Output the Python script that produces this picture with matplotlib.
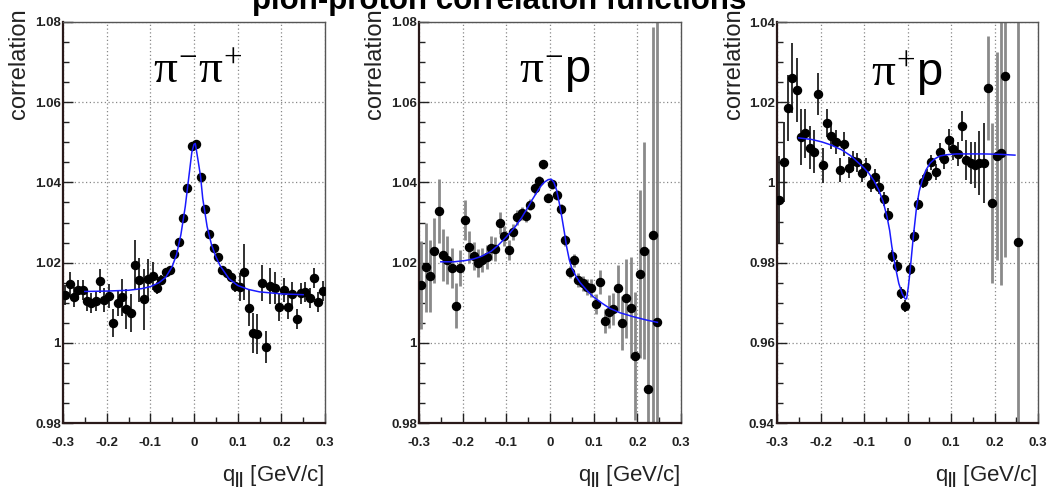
import matplotlib
matplotlib.use("Agg")
import matplotlib.pyplot as plt
from matplotlib.ticker import MultipleLocator, FixedLocator, FixedFormatter

plt.rcParams['font.family'] = ['Liberation Sans', 'DejaVu Sans']
plt.rcParams['axes.unicode_minus'] = False
plt.rcParams['mathtext.fontset'] = 'custom'
plt.rcParams['mathtext.rm'] = 'Liberation Serif'
plt.rcParams['mathtext.it'] = 'Liberation Serif'
plt.rcParams['mathtext.sf'] = 'Liberation Sans'
plt.rcParams['mathtext.bf'] = 'Liberation Sans:bold'

# ---------------- data ----------------
q_left = [-0.295, -0.285, -0.275, -0.265, -0.255, -0.245, -0.235, -0.225, -0.215, -0.205,
          -0.195, -0.185, -0.175, -0.165, -0.155, -0.145, -0.135, -0.125, -0.115, -0.105,
          -0.095, -0.085, -0.075, -0.065, -0.055, -0.045, -0.035, -0.025, -0.015, -0.005]
q_right = [0.005, 0.015, 0.025, 0.035, 0.045, 0.055, 0.065, 0.075, 0.085, 0.095,
           0.105, 0.115, 0.125, 0.135, 0.145, 0.155, 0.165, 0.175, 0.185, 0.195,
           0.205, 0.215, 0.225, 0.235, 0.245, 0.255, 0.265, 0.275, 0.285, 0.295]

# pi- pi+
pipi_q = q_left + q_right
pipi_c = [1.0119, 1.0147, 1.0115, 1.0132, 1.0131, 1.0105, 1.0100, 1.0105, 1.0155, 1.0106,
          1.0117, 1.0049, 1.0099, 1.0113, 1.0084, 1.0074, 1.0194, 1.0157, 1.0108, 1.0160,
          1.0167, 1.0136, 1.0157, 1.0177, 1.0182, 1.0221, 1.0251, 1.0310, 1.0385, 1.0490,
          1.0496, 1.0413, 1.0334, 1.0271, 1.0236, 1.0215, 1.0182, 1.0173, 1.0165, 1.0142,
          1.0140, 1.0177, 1.0086, 1.0024, 1.0021, 1.0148, 0.9990, 1.0142, 1.0136, 1.0089,
          1.0132, 1.0090, 1.0122, 1.0059, 1.0123, 1.0127, 1.0112, 1.0161, 1.0102, 1.0130]
pipi_err = [0.0025, 0.0030, 0.0025, 0.0025, 0.0025, 0.0025, 0.0025, 0.0025, 0.0030, 0.0030,
            0.0030, 0.0035, 0.0033, 0.0045, 0.0050, 0.0048, 0.0063, 0.0055, 0.0075, 0.0050,
            0.0035, 0.0015, 0.0012, 0.0010, 0.0010, 0.0009, 0.0008, 0.0008, 0.0007, 0.0007,
            0.0007, 0.0007, 0.0008, 0.0008, 0.0009, 0.0010, 0.0010, 0.0010, 0.0012, 0.0015,
            0.0035, 0.0070, 0.0045, 0.0050, 0.0050, 0.0045, 0.0040, 0.0045, 0.0040, 0.0035,
            0.0030, 0.0030, 0.0030, 0.0025, 0.0025, 0.0025, 0.0025, 0.0025, 0.0025, 0.0025]
pipi_fit_q = [-0.25, -0.20, -0.15, -0.12, -0.10, -0.08, -0.065, -0.05, -0.04, -0.03, -0.02,
              -0.01, -0.005, 0.0, 0.003, 0.01, 0.015, 0.02, 0.03, 0.04, 0.05, 0.06, 0.08,
              0.10, 0.125, 0.15, 0.20, 0.25]
pipi_fit_c = [1.0128, 1.0129, 1.0131, 1.0135, 1.0140, 1.0150, 1.0163, 1.0190, 1.0220, 1.0270,
              1.0340, 1.0430, 1.0475, 1.0495, 1.0497, 1.0450, 1.0415, 1.0360, 1.0290, 1.0245,
              1.0215, 1.0192, 1.0160, 1.0143, 1.0133, 1.0127, 1.0122, 1.0120]

# pi- p
pimp_q = q_left + q_right[:25]
pimp_c = [1.0144, 1.0188, 1.0167, 1.0230, 1.0329, 1.0219, 1.0206, 1.0186, 1.0093, 1.0186,
          1.0306, 1.0238, 1.0216, 1.0198, 1.0206, 1.0215, 1.0236, 1.0233, 1.0299, 1.0266,
          1.0231, 1.0277, 1.0313, 1.0323, 1.0316, 1.0344, 1.0385, 1.0403, 1.0445, 1.0362,
          1.0395, 1.0369, 1.0334, 1.0256, 1.0177, 1.0206, 1.0157, 1.0148, 1.0140, 1.0136,
          1.0096, 1.0151, 1.0055, 1.0078, 1.0085, 1.0137, 1.0050, 1.0111, 1.0088, 0.9967,
          1.0172, 1.0230, 0.9884, 1.0268, 1.0051]
pimp_err = [0.0110, 0.0110, 0.0090, 0.0080, 0.0080, 0.0065, 0.0060, 0.0050, 0.0055, 0.0045,
            0.0050, 0.0040, 0.0035, 0.0035, 0.0030, 0.0030, 0.0030, 0.0030, 0.0028, 0.0025,
            0.0025, 0.0020, 0.0018, 0.0016, 0.0015, 0.0014, 0.0013, 0.0012, 0.0012, 0.0012,
            0.0012, 0.0012, 0.0013, 0.0014, 0.0015, 0.0016, 0.0017, 0.0018, 0.0020, 0.0022,
            0.0025, 0.0030, 0.0030, 0.0040, 0.0040, 0.0058, 0.0067, 0.0098, 0.0125, 0.0160,
            0.0210, 0.0270, 0.0350, 0.0520, 0.0800]
pimp_fit_q = [-0.25, -0.22, -0.195, -0.175, -0.156, -0.135, -0.118, -0.10, -0.08, -0.065,
              -0.05, -0.04, -0.027, -0.018, -0.011, -0.004, 0.003, 0.009, 0.015, 0.021,
              0.027, 0.033, 0.038, 0.044, 0.050, 0.060, 0.069, 0.085, 0.099, 0.12, 0.137,
              0.16, 0.191, 0.22, 0.246]
pimp_fit_c = [1.0202, 1.0202, 1.0205, 1.0209, 1.0216, 1.0228, 1.0244, 1.0264, 1.0289, 1.0312,
              1.0339, 1.0358, 1.0381, 1.0395, 1.0402, 1.0407, 1.0408, 1.0400, 1.0381, 1.0350,
              1.0314, 1.0275, 1.0240, 1.0208, 1.0186, 1.0165, 1.0150, 1.0130, 1.0115, 1.0098,
              1.0086, 1.0075, 1.0065, 1.0057, 1.0051]

# pi+ p
pipp_q = q_left + q_right[:23] + [0.255]
pipp_c = [0.9956, 1.0050, 1.0186, 1.0260, 1.0230, 1.0114, 1.0122, 1.0087, 1.0077, 1.0220,
          1.0043, 1.0147, 1.0116, 1.0101, 1.0031, 1.0095, 1.0037, 1.0054, 1.0050, 1.0024,
          1.0039, 0.9995, 1.0014, 0.9989, 0.9958, 0.9919, 0.9816, 0.9792, 0.9725, 0.9692,
          0.9785, 0.9866, 0.9946, 1.0002, 1.0017, 1.0050, 1.0027, 1.0077, 1.0058, 1.0106,
          1.0083, 1.0071, 1.0141, 1.0056, 1.0049, 1.0043, 1.0048, 1.0048, 1.0236, 0.9948,
          1.0066, 1.0073, 1.0265, 0.9852]
pipp_err = [0.0110, 0.0100, 0.0083, 0.0087, 0.0079, 0.0070, 0.0060, 0.0054, 0.0054, 0.0052,
            0.0044, 0.0035, 0.0032, 0.0030, 0.0030, 0.0030, 0.0026, 0.0025, 0.0024, 0.0023,
            0.0022, 0.0020, 0.0020, 0.0018, 0.0017, 0.0016, 0.0015, 0.0015, 0.0015, 0.0015,
            0.0015, 0.0015, 0.0015, 0.0016, 0.0017, 0.0018, 0.0020, 0.0022, 0.0024, 0.0026,
            0.0028, 0.0030, 0.0038, 0.0050, 0.0052, 0.0058, 0.0079, 0.0100, 0.0130, 0.0200,
            0.0260, 0.0330, 0.0450, 0.0800]
pipp_fit_q = [-0.25, -0.22, -0.197, -0.175, -0.151, -0.13, -0.112, -0.10, -0.089, -0.077,
              -0.066, -0.056, -0.047, -0.041, -0.036, -0.028, -0.020, -0.012, -0.005, -0.002,
              0.002, 0.006, 0.0134, 0.021, 0.027, 0.033, 0.042, 0.052, 0.063, 0.075, 0.09,
              0.113, 0.15, 0.175, 0.213, 0.247]
pipp_fit_c = [1.0111, 1.0107, 1.0101, 1.0093, 1.0081, 1.0066, 1.0048, 1.0036, 1.0023, 1.0004,
              0.9981, 0.9952, 0.9914, 0.9880, 0.9840, 0.9790, 0.9748, 0.9722, 0.9709, 0.9710,
              0.9740, 0.9780, 0.9865, 0.9940, 0.9978, 1.0002, 1.0030, 1.0048, 1.0059, 1.0066,
              1.0069, 1.0071, 1.0071, 1.0071, 1.0070, 1.0068]

x_ticks = [-0.3, -0.2, -0.1, 0.0, 0.1, 0.2, 0.3]
x_tick_labels = ['-0.3', '-0.2', '-0.1', '0', '0.1', '0.2', '0.3']
y_ticks_a = [0.98, 1.00, 1.02, 1.04, 1.06, 1.08]
y_tick_labels_a = ['0.98', '1', '1.02', '1.04', '1.06', '1.08']
y_ticks_b = [0.94, 0.96, 0.98, 1.00, 1.02, 1.04]
y_tick_labels_b = ['0.94', '0.96', '0.98', '1', '1.02', '1.04']

panel_labels = [r'$\pi^{-}\pi^{+}$', r'$\pi^{-}\mathsf{p}$', r'$\pi^{+}\mathsf{p}$']

# ---------------- figure ----------------
W, H = 1048, 492
fig = plt.figure(figsize=(W / 100, H / 100), dpi=100)


def fx(px):
    return px / W


def fy(py):
    return 1 - py / H


axes_px = [(63, 325), (419, 681), (777, 1038)]
top_px, bot_px = 22, 423

panels = [
    (pipi_q, pipi_c, pipi_err, pipi_fit_q, pipi_fit_c, (0.98, 1.08), y_ticks_a, y_tick_labels_a),
    (pimp_q, pimp_c, pimp_err, pimp_fit_q, pimp_fit_c, (0.98, 1.08), y_ticks_a, y_tick_labels_a),
    (pipp_q, pipp_c, pipp_err, pipp_fit_q, pipp_fit_c, (0.94, 1.04), y_ticks_b, y_tick_labels_b),
]
label_pos = [(198, 71), (555, 73), (907, 75)]
ylabel_x = [19, 375, 734]

for i, (q, c, e, fq, fc, ylim, yt, ytl) in enumerate(panels):
    l, r = axes_px[i]
    ax = fig.add_axes([fx(l), fy(bot_px), (r - l) / W, (bot_px - top_px) / H])
    ax.set_xlim(-0.3, 0.3)
    ax.set_ylim(*ylim)

    # error bars
    for qq, cc, ee in zip(q, c, e):
        if i == 1:
            col, lw = '#8a8a8a', 2.0
        elif i == 2 and ee > 0.012:
            col, lw = '#8a8a8a', 2.0
        else:
            col, lw = '#202020', 1.3
        ax.plot([qq, qq], [cc - ee, cc + ee], color=col, lw=lw, solid_capstyle='butt', zorder=2)
    ax.plot(q, c, 'o', color='black', ms=5.8, zorder=3)
    ax.plot(fq, fc, color='#1a1aff', lw=1.1, zorder=4)

    ax.xaxis.set_major_locator(FixedLocator(x_ticks))
    ax.xaxis.set_major_formatter(FixedFormatter(x_tick_labels))
    ax.xaxis.set_minor_locator(MultipleLocator(0.05))
    ax.yaxis.set_major_locator(FixedLocator(yt))
    ax.yaxis.set_major_formatter(FixedFormatter(ytl))
    ax.yaxis.set_minor_locator(MultipleLocator(0.005))
    ax.tick_params(which='both', direction='in', top=False, right=False, colors='#222222')
    ax.tick_params(which='major', length=7, width=1.0)
    ax.tick_params(which='minor', length=4, width=1.0)
    ax.tick_params(axis='x', which='major', pad=10, labelsize=9.5)
    ax.tick_params(axis='y', which='major', pad=1.5, labelsize=9.5)
    for lab in ax.get_xticklabels() + ax.get_yticklabels():
        lab.set_fontweight('bold')
        lab.set_color('#222222')
    ax.grid(True, which='major', color='#888888', lw=0.9, ls=(0, (1, 2)))
    for side in ['left', 'bottom']:
        ax.spines[side].set_linewidth(1.6)
        ax.spines[side].set_color('#2a1a1a')
    for side in ['top', 'right']:
        ax.spines[side].set_linewidth(1.0)
        ax.spines[side].set_color('#555555')

    lx, ly = label_pos[i]
    fig.text(fx(lx), fy(ly), panel_labels[i], fontsize=34, ha='center', va='center')
    fig.text(fx(ylabel_x[i]), fy(8), 'correlation', rotation=90, ha='center', va='top',
             fontsize=17, color='#222222')
    fig.text(fx(r), fy(476), r'q$_{\mathbf{||}}$ [GeV/c]', ha='right', va='center',
             fontsize=16, color='#222222')

fig.text(fx(499), fy(9), 'pion-proton correlation functions', ha='center', va='baseline',
         fontsize=22.5, fontweight='bold')

fig.savefig('out.png', dpi=100)
